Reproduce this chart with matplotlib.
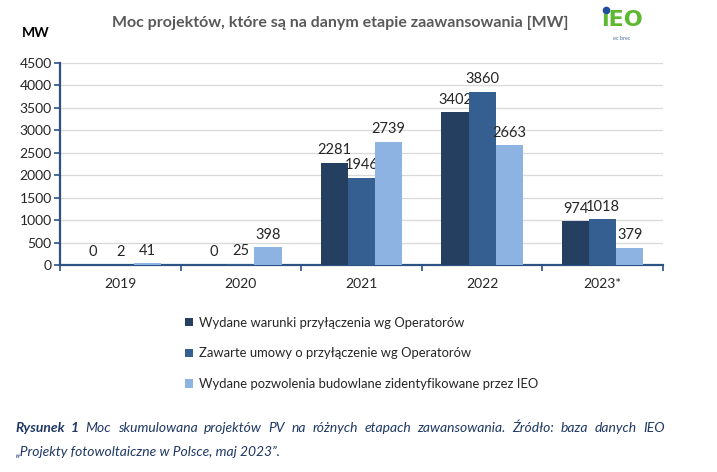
import numpy as np
import matplotlib
matplotlib.use("Agg")
from matplotlib import pyplot as plt
from matplotlib.lines import Line2D
from matplotlib.ticker import FixedLocator

plt.rcParams['font.family'] = ['Lato', 'DejaVu Sans']

# data
years = ["2019", "2020", "2021", "2022", "2023*"]
warunki = [0, 0, 2281, 3402, 974]
umowy = [2, 25, 1946, 3860, 1018]
pozwolenia = [41, 398, 2739, 2663, 379]
series_names = [
    "Wydane warunki przyłączenia wg Operatorów",
    "Zawarte umowy o przyłączenie wg Operatorów",
    "Wydane pozwolenia budowlane zidentyfikowane przez IEO",
]
colors = ["#243f60", "#365f91", "#8db3e2"]
axis_col = "#2c5286"

fig = plt.figure(figsize=(7.17, 4.72), dpi=100)
ax = fig.add_axes([60 / 717, 1 - 265 / 472, 603 / 717, 202 / 472])

x = np.arange(len(years))
w = 0.225
bars = []
for i, (vals, c) in enumerate(zip([warunki, umowy, pozwolenia], colors)):
    b = ax.bar(x + (i - 1) * w, vals, w, color=c, zorder=3)
    bars.append(b)
    for xi, v in zip(x + (i - 1) * w, vals):
        ax.annotate(str(v), (xi, v), xytext=(0, 4), textcoords="offset points",
                    ha="center", va="bottom", fontsize=10.5, color="#262626")

ax.set_xlim(-0.5, len(years) - 0.5)
ax.set_ylim(0, 4500)
ax.set_yticks(np.arange(0, 4501, 500))
ax.yaxis.grid(True, color="#d9d9d9", lw=0.9, zorder=0)
ax.set_xticks(x)
ax.set_xticklabels(years)
ax.xaxis.set_minor_locator(FixedLocator(np.arange(-0.5, len(years), 1.0)))
ax.tick_params(axis="x", which="major", length=0, pad=9, labelsize=10, labelcolor="#262626")
ax.tick_params(axis="x", which="minor", length=4, width=1.2, color=axis_col, direction="out")
ax.tick_params(axis="y", length=4, width=1.2, color=axis_col, pad=2, labelsize=10, labelcolor="#262626")
for s in ["top", "right"]:
    ax.spines[s].set_visible(False)
for s in ["left", "bottom"]:
    ax.spines[s].set_color(axis_col)
    ax.spines[s].set_linewidth(1.6)

fig.text(340 / 717, 1 - 23 / 472, "Moc projektów, które są na danym etapie zaawansowania [MW]",
         ha="center", va="center", fontsize=11.5, fontweight="bold", color="#595959")
fig.text(22 / 717, 1 - 33 / 472, "MW", ha="left", va="center", fontsize=10,
         fontweight="bold", color="#000000")

# logo
fig.text(622 / 717, 1 - 20 / 472, "ıEO", ha="center", va="center", fontsize=16,
         fontweight="bold", family="DejaVu Sans", color="#5cb82e")
fig.add_artist(Line2D([605.5 / 717], [1 - 10 / 472], marker="o", markersize=4.5,
                      color="#1f4e9a", transform=fig.transFigure))
fig.text(622 / 717, 1 - 38 / 472, "ec brec", ha="center", va="center", fontsize=4,
         color="#4a6fa5")

fig.legend(bars, series_names, loc="upper left", bbox_to_anchor=(178 / 717, 1 - 310 / 472),
           frameon=False, fontsize=9.4, handlelength=0.65, handleheight=0.65,
           handletextpad=0.45, labelspacing=1.45, borderpad=0, labelcolor="#262626")

# caption, first line justified
cap_col = "#1f3864"
cap_fs = 10
fig.canvas.draw()
r = fig.canvas.get_renderer()
words = [("Rysunek", "bold"), ("1", "bold")] + [
    (wd, "normal") for wd in
    "Moc skumulowana projektów PV na różnych etapach zawansowania. Źródło: baza danych IEO".split()]
texts = []
total = 0
for wd, wt in words:
    t = fig.text(0, 1 - 428 / 472, wd, ha="left", va="center", fontsize=cap_fs,
                 fontweight=wt, style="italic", color=cap_col)
    texts.append(t)
    total += t.get_window_extent(renderer=r).width
x0, x1 = 15, 665
gap = (x1 - x0 - total) / (len(words) - 1)
pos = x0
for t in texts:
    t.set_x(pos / 717)
    pos += t.get_window_extent(renderer=r).width + gap
fig.text(15 / 717, 1 - 452 / 472, "„Projekty fotowoltaiczne w Polsce, maj 2023”.",
         ha="left", va="center", fontsize=cap_fs, style="italic", color=cap_col)

fig.savefig("out.png", dpi=100)
